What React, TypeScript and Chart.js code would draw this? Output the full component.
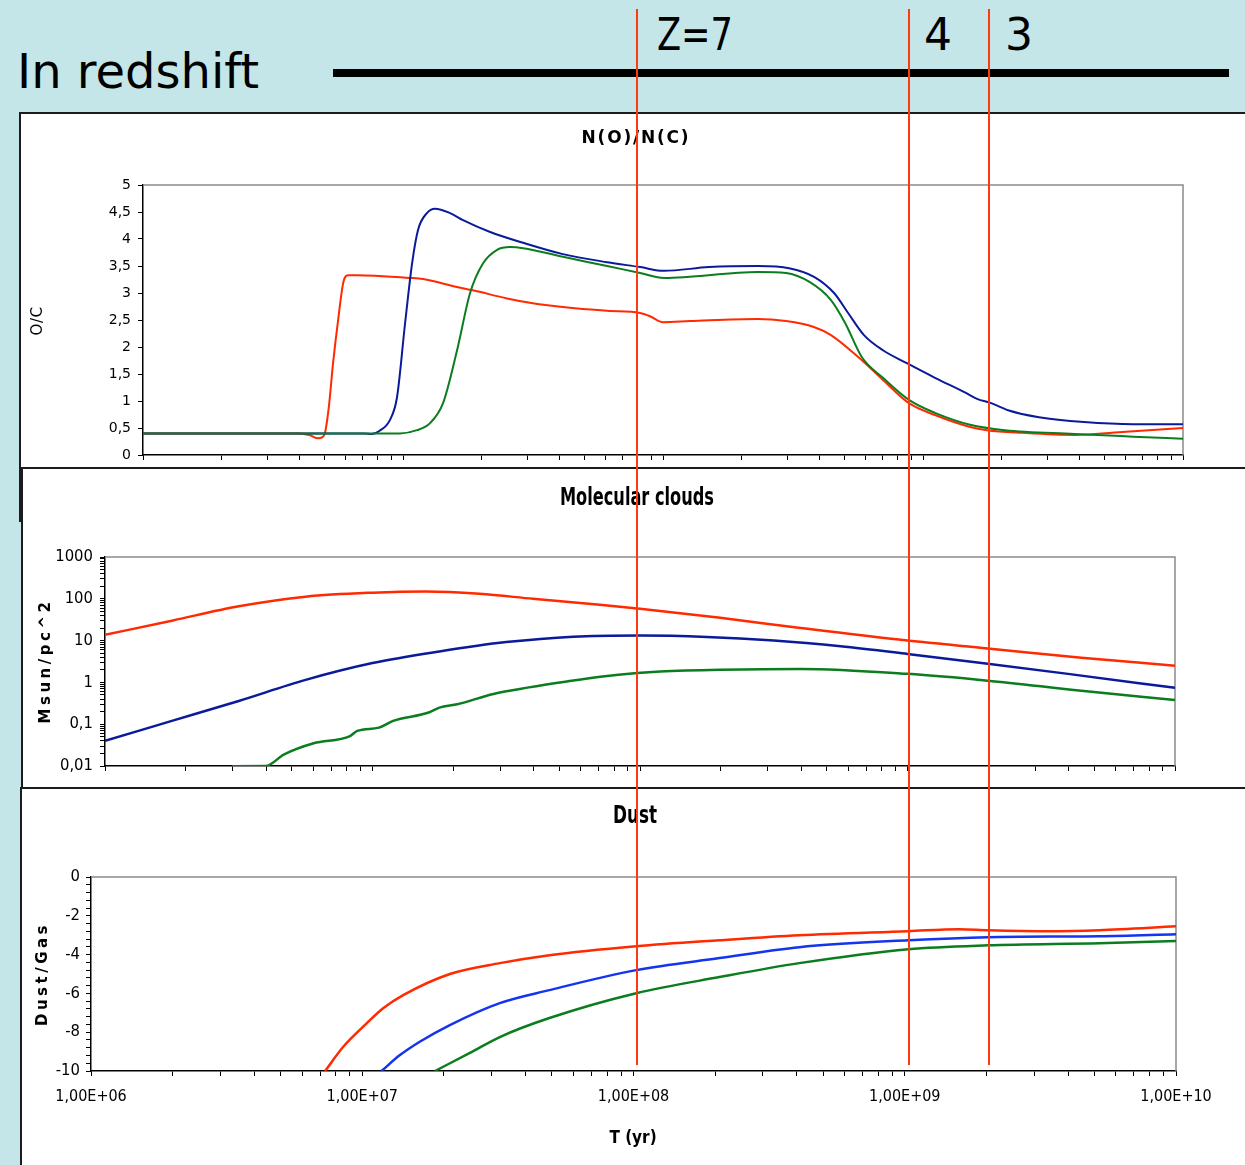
import React, { useEffect, useRef } from 'react';
import { Chart, registerables } from 'chart.js';

Chart.register(...registerables);

// ---------------- Data (time given as log10 of T in years) ----------------
// Panel 1: N(O)/N(C)
const ocRedLogT = [6.0, 6.3, 6.6, 6.64, 6.673, 6.69, 6.70, 6.715, 6.731, 6.752, 6.771, 6.79, 6.823, 7.027, 7.077, 7.208, 7.269, 7.4, 7.488, 7.615, 7.785, 7.912, 7.95, 8.0, 8.104, 8.365, 8.473, 8.58, 8.646, 8.754, 8.846, 8.946, 9.046, 9.181, 9.246, 9.381, 9.581, 9.781, 10.0];
const ocRedVal = [0.40, 0.40, 0.40, 0.37, 0.31, 0.33, 0.41, 0.9, 1.7, 2.56, 3.21, 3.33, 3.33, 3.28, 3.26, 3.11, 3.05, 2.9, 2.82, 2.74, 2.67, 2.63, 2.57, 2.46, 2.48, 2.52, 2.48, 2.37, 2.22, 1.8, 1.39, 0.96, 0.74, 0.52, 0.46, 0.41, 0.37, 0.43, 0.5];
const ocBlueLogT = [6.0, 6.5, 6.85, 6.88, 6.91, 6.95, 6.977, 7.008, 7.035, 7.058, 7.092, 7.123, 7.181, 7.231, 7.335, 7.462, 7.615, 7.785, 7.912, 8.004, 8.177, 8.365, 8.485, 8.581, 8.658, 8.712, 8.773, 8.846, 8.938, 9.046, 9.165, 9.208, 9.262, 9.327, 9.446, 9.619, 9.808, 10.0];
const ocBlueVal = [0.40, 0.40, 0.40, 0.39, 0.45, 0.65, 1.07, 2.44, 3.55, 4.17, 4.48, 4.56, 4.48, 4.35, 4.13, 3.93, 3.72, 3.57, 3.48, 3.41, 3.48, 3.5, 3.46, 3.3, 3.0, 2.63, 2.22, 1.94, 1.7, 1.43, 1.15, 1.04, 0.96, 0.83, 0.7, 0.61, 0.57, 0.57];
const ocGreenLogT = [6.0, 6.5, 6.9, 6.988, 7.054, 7.104, 7.154, 7.208, 7.258, 7.308, 7.362, 7.412, 7.462, 7.615, 7.785, 7.912, 8.004, 8.365, 8.473, 8.565, 8.646, 8.7, 8.765, 8.846, 8.946, 9.046, 9.181, 9.315, 9.581, 9.808, 10.0];
const ocGreenVal = [0.40, 0.40, 0.40, 0.40, 0.46, 0.59, 0.96, 1.94, 3.0, 3.55, 3.8, 3.85, 3.83, 3.67, 3.5, 3.37, 3.28, 3.39, 3.37, 3.2, 2.87, 2.45, 1.81, 1.43, 1.02, 0.78, 0.56, 0.46, 0.39, 0.34, 0.3];
const ocTickLabels = ['0', '0,5', '1', '1,5', '2', '2,5', '3', '3,5', '4', '4,5', '5'];

// Panel 2: Molecular clouds (Msun/pc^2)
const mcRedLogT = [6.0, 6.25, 6.5, 6.75, 7.0, 7.2, 7.4, 7.6, 7.85, 8.0, 8.3, 8.6, 9.0, 9.3, 9.65, 10.0];
const mcRedVal = [13.7, 30, 66, 112, 140, 150, 132, 100, 72, 58, 35, 20, 10, 6.5, 3.9, 2.5];
const mcBlueLogT = [6.0, 6.25, 6.5, 6.75, 7.0, 7.25, 7.5, 7.75, 8.0, 8.25, 8.5, 8.75, 9.0, 9.3, 9.6, 10.0];
const mcBlueVal = [0.04, 0.12, 0.36, 1.15, 2.9, 5.5, 9.2, 12.4, 13.2, 12.2, 10, 7.3, 4.8, 2.8, 1.6, 0.74];
const mcGreenLogT = [6.475, 6.6, 6.67, 6.78, 6.916, 6.943, 7.024, 7.077, 7.21, 7.25, 7.317, 7.452, 7.585, 7.72, 7.852, 7.99, 8.076, 8.3, 8.6, 9.0, 9.3, 9.65, 10.0];
const mcGreenVal = [0.0099, 0.0100, 0.019, 0.035, 0.052, 0.069, 0.083, 0.12, 0.19, 0.25, 0.30, 0.53, 0.76, 1.04, 1.37, 1.68, 1.82, 2.0, 2.1, 1.6, 1.1, 0.63, 0.38];
const mcTickLabels = ['0,01', '0,1', '1', '10', '100', '1000'];

// Panel 3: Dust/Gas
const dgRedLogT = [6.863, 6.93, 7.016, 7.077, 7.151, 7.323, 7.507, 7.69, 8.01, 8.317, 8.611, 9.013, 9.2, 9.307, 9.53, 9.717, 10.0];
const dgRedVal = [-10, -8.75, -7.55, -6.77, -6.09, -5.0, -4.44, -4.03, -3.57, -3.26, -3.0, -2.79, -2.69, -2.74, -2.79, -2.74, -2.54];
const dgBlueLogT = [7.071, 7.139, 7.212, 7.323, 7.507, 7.69, 8.01, 8.317, 8.611, 9.013, 9.307, 9.717, 10.0];
const dgBlueVal = [-10, -9.18, -8.49, -7.63, -6.5, -5.83, -4.8, -4.18, -3.62, -3.26, -3.1, -3.05, -2.95];
const dgGreenLogT = [7.268, 7.397, 7.507, 7.69, 8.01, 8.317, 8.611, 9.013, 9.307, 9.717, 10.0];
const dgGreenVal = [-10, -9.07, -8.25, -7.27, -5.99, -5.16, -4.44, -3.72, -3.52, -3.41, -3.3];
const dgTickLabels = ['-10', '-8', '-6', '-4', '-2', '0'];

const timeTickLabels = ['1,00E+06', '1,00E+07', '1,00E+08', '1,00E+09', '1,00E+10'];

// Redshift markers (header)
const redshiftLabels = ['Z=7', '4', '3'];

// ---------------- Styling ----------------
const RED = '#ff2a00';
const NAVY = '#0a1a9a';
const GREEN = '#0b7d1f';
const BRIGHT_BLUE = '#1434ee';
const MARK_RED = '#ff3a12';
const BG = '#c4e6e8';
const COND = "'DejaVu Sans Condensed', 'DejaVu Sans'";

function decadeTicks(minExp: number, maxExp: number) {
  const t: number[] = [];
  for (let e = minExp; e < maxExp; e++) for (let d = 1; d < 10; d++) t.push(d * Math.pow(10, e));
  t.push(Math.pow(10, maxExp));
  return t;
}

function powerIndex(v: number) {
  const e = Math.log10(v);
  const r = Math.round(e);
  return Math.abs(e - r) < 1e-6 ? r : null;
}

function series(logT: number[], vals: number[], color: string, width: number) {
  return {
    data: logT.map((l, i) => ({ x: Math.pow(10, l), y: vals[i] })),
    borderColor: color,
    backgroundColor: color,
    borderWidth: width,
    pointRadius: 0,
    fill: false,
    cubicInterpolationMode: 'monotone' as const,
  };
}

const framePlugin = {
  id: 'frame',
  beforeDatasetsDraw(chart: any) {
    const { ctx, chartArea: a } = chart;
    ctx.save();
    ctx.strokeStyle = '#8a8a8a';
    ctx.lineWidth = 1.5;
    ctx.beginPath();
    ctx.moveTo(a.left, a.top);
    ctx.lineTo(a.right, a.top);
    ctx.lineTo(a.right, a.bottom);
    ctx.stroke();
    ctx.restore();
  },
};

const grid = { display: true, drawOnChartArea: false, drawTicks: true, tickLength: 5, color: '#000', lineWidth: 1 };
const border = { display: true, color: '#000', width: 1.5 };

function fixW(w: number) {
  return (s: any) => {
    s.width = w;
    s.paddingTop = 0; s.paddingBottom = 0; s.paddingLeft = 0; s.paddingRight = 0;
  };
}
function fixH(h: number) {
  return (s: any) => {
    s.height = h;
    s.paddingTop = 0; s.paddingBottom = 0; s.paddingLeft = 0; s.paddingRight = 0;
  };
}

function baseOptions(padTop: number, padRight: number) {
  return {
    responsive: false,
    animation: false as const,
    devicePixelRatio: 1,
    events: [] as any[],
    layout: { padding: { left: 0, top: padTop, right: padRight, bottom: 0 } },
    plugins: { legend: { display: false }, tooltip: { enabled: false }, title: { display: false } },
  };
}

function timeAxis(height: number, showLabels: boolean) {
  return {
    type: 'logarithmic' as const,
    min: 1e6,
    max: 1e10,
    grid,
    border,
    afterBuildTicks: (s: any) => { s.ticks = decadeTicks(6, 10).map((v) => ({ value: v })); },
    afterFit: fixH(height),
    ticks: {
      display: showLabels,
      autoSkip: false,
      maxRotation: 0,
      minRotation: 0,
      padding: 11,
      color: '#000',
      font: { family: COND, size: 16 },
      callback: (v: any) => {
        const r = powerIndex(Number(v));
        return r === null ? '' : timeTickLabels[r - 6];
      },
    },
  };
}

function buildOC() {
  return {
    type: 'line' as const,
    data: {
      datasets: [
        series(ocGreenLogT, ocGreenVal, GREEN, 2),
        series(ocBlueLogT, ocBlueVal, NAVY, 2),
        series(ocRedLogT, ocRedVal, RED, 2),
      ],
    },
    options: {
      ...baseOptions(71, 62),
      scales: {
        x: timeAxis(10, false),
        y: {
          type: 'linear' as const,
          min: 0,
          max: 5,
          grid,
          border,
          afterFit: fixW(122),
          ticks: {
            stepSize: 0.5,
            autoSkip: false,
            padding: 7,
            color: '#000',
            font: { family: "'DejaVu Sans'", size: 14 },
            callback: (v: any) => {
              const i = Math.round(Number(v) * 2);
              return ocTickLabels[i] ?? '';
            },
          },
        },
      },
    },
    plugins: [framePlugin],
  };
}

function buildMC() {
  return {
    type: 'line' as const,
    data: {
      datasets: [
        series(mcGreenLogT, mcGreenVal, GREEN, 2.5),
        series(mcBlueLogT, mcBlueVal, NAVY, 2.5),
        series(mcRedLogT, mcRedVal, RED, 2.5),
      ],
    },
    options: {
      ...baseOptions(88, 70),
      scales: {
        x: timeAxis(19, false),
        y: {
          type: 'logarithmic' as const,
          min: 0.01,
          max: 1000,
          grid,
          border,
          afterFit: fixW(82),
          afterBuildTicks: (s: any) => { s.ticks = decadeTicks(-2, 3).map((v) => ({ value: v })); },
          ticks: {
            autoSkip: false,
            padding: 7,
            color: '#000',
            font: { family: COND, size: 16.5 },
            callback: (v: any) => {
              const r = powerIndex(Number(v));
              return r === null ? '' : mcTickLabels[r + 2];
            },
          },
        },
      },
    },
    plugins: [framePlugin],
  };
}

function buildDG() {
  return {
    type: 'line' as const,
    data: {
      datasets: [
        series(dgGreenLogT, dgGreenVal, GREEN, 2.5),
        series(dgBlueLogT, dgBlueVal, BRIGHT_BLUE, 2.5),
        series(dgRedLogT, dgRedVal, RED, 2.5),
      ],
    },
    options: {
      ...baseOptions(88, 69),
      scales: {
        x: timeAxis(94, true),
        y: {
          type: 'linear' as const,
          min: -10,
          max: 0,
          grid,
          border,
          afterFit: fixW(69),
          afterBuildTicks: (s: any) => {
            const t: any[] = [];
            for (let i = 0; i <= 25; i++) t.push({ value: Math.round((-10 + i * 0.4) * 10) / 10 });
            s.ticks = t;
          },
          ticks: {
            autoSkip: false,
            padding: 6,
            color: '#000',
            font: { family: COND, size: 16.5 },
            callback: (v: any) => {
              const n = Number(v);
              const r = Math.round(n);
              if (Math.abs(n - r) > 1e-6 || r % 2 !== 0) return '';
              return dgTickLabels[(r + 10) / 2];
            },
          },
        },
      },
    },
    plugins: [framePlugin],
  };
}

function ChartCanvas({ left, top, width, height, build }: { left: number; top: number; width: number; height: number; build: () => any }) {
  const ref = useRef<HTMLCanvasElement>(null);
  useEffect(() => {
    const chart = new Chart(ref.current as HTMLCanvasElement, build());
    return () => chart.destroy();
  }, []);
  return (
    <canvas
      ref={ref}
      width={width}
      height={height}
      style={{ position: 'absolute', left, top, width, height, display: 'block' }}
    />
  );
}

const abs = (s: React.CSSProperties): React.CSSProperties => ({ position: 'absolute', margin: 0, whiteSpace: 'nowrap', lineHeight: 1, ...s });

function Centered({ x, y, text, size, bold, cond, scaleX, spacing, rotate }: { x: number; y: number; text: string; size: number; bold?: boolean; cond?: boolean; scaleX?: number; spacing?: number; rotate?: boolean }) {
  const tf = `translate(-50%, -50%)${rotate ? ' rotate(-90deg)' : ''}${scaleX ? ` scaleX(${scaleX})` : ''}`;
  return (
    <div
      style={abs({
        left: x,
        top: y,
        transform: tf,
        fontFamily: cond ? COND : "'DejaVu Sans'",
        fontStretch: cond ? 'condensed' : 'normal',
        fontWeight: bold ? 700 : 400,
        fontSize: size,
        letterSpacing: spacing ? spacing : 0,
        color: '#000',
      })}
    >
      {text}
    </div>
  );
}

export default function App() {
  const panelBorder = '2px solid #1c1c1c';
  const markerXs = [636, 908, 988];
  return (
    <div style={{ position: 'absolute', left: 0, top: 0, width: 1245, height: 1165, background: BG, overflow: 'hidden' }}>
      {/* Header */}
      <div style={abs({ left: 17, top: 47, fontFamily: "'DejaVu Sans'", fontSize: 48, color: '#000' })}>In redshift</div>
      <div style={{ position: 'absolute', left: 333, top: 69, width: 896, height: 8, background: '#000' }} />
      <div style={abs({ left: 657, top: 13, fontFamily: "'DejaVu Sans'", fontSize: 44, color: '#000', transform: 'scaleX(0.8)', transformOrigin: 'left top' })}>{redshiftLabels[0]}</div>
      <div style={abs({ left: 924, top: 13, fontFamily: "'DejaVu Sans'", fontSize: 44, color: '#000' })}>{redshiftLabels[1]}</div>
      <div style={abs({ left: 1005, top: 13, fontFamily: "'DejaVu Sans'", fontSize: 44, color: '#000' })}>{redshiftLabels[2]}</div>

      {/* Panels */}
      <div style={{ position: 'absolute', left: 19, top: 112, width: 1226, height: 410, background: '#fff', borderTop: panelBorder, borderLeft: panelBorder, boxSizing: 'border-box' }} />
      <div style={{ position: 'absolute', left: 21, top: 467, width: 1224, height: 320, background: '#fff', borderTop: panelBorder, borderLeft: panelBorder, boxSizing: 'border-box' }} />
      <div style={{ position: 'absolute', left: 20, top: 787, width: 1225, height: 378, background: '#fff', borderTop: panelBorder, borderLeft: panelBorder, boxSizing: 'border-box' }} />

      <ChartCanvas left={21} top={114} width={1224} height={351} build={buildOC} />
      <ChartCanvas left={23} top={469} width={1222} height={316} build={buildMC} />
      <ChartCanvas left={22} top={789} width={1223} height={376} build={buildDG} />

      {/* Titles */}
      <Centered x={636} y={137} text="N(O)/N(C)" size={17} bold spacing={1.8} />
      <Centered x={37} y={321} text="O/C" size={15} rotate spacing={0.5} />
      <Centered x={637} y={497} text="Molecular clouds" size={24} bold cond scaleX={0.75} />
      <Centered x={45} y={661} text="Msun/pc^2" size={15} bold rotate spacing={3.5} />
      <Centered x={635} y={815} text="Dust" size={24} bold cond scaleX={0.78} />
      <Centered x={42} y={974} text="Dust/Gas" size={15} bold rotate spacing={3.5} />
      <Centered x={633} y={1137} text="T (yr)" size={17} bold cond />

      {/* Redshift marker lines */}
      {markerXs.map((x) => (
        <div key={x} style={{ position: 'absolute', left: x, top: 9, width: 2, height: 1056, background: MARK_RED, zIndex: 10 }} />
      ))}
    </div>
  );
}
